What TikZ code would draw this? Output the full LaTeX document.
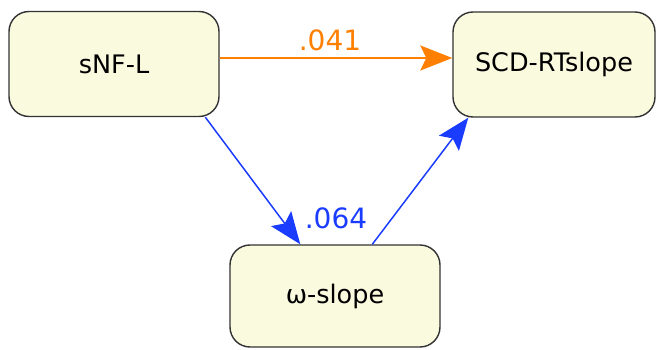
\documentclass[tikz,border=0pt]{standalone}
\usepackage{fontspec}
\setmainfont{DejaVu Sans}
\usetikzlibrary{arrows.meta,calc}
\definecolor{boxfill}{HTML}{FAFADF}
\definecolor{boxline}{HTML}{333333}
\definecolor{orangeedge}{HTML}{FF7F00}
\definecolor{blueedge}{HTML}{1A3CFF}
\tikzset{
  var/.style={draw=boxline, line width=1.4pt, fill=boxfill, rounded corners=20pt,
    minimum width=210pt, minimum height=105pt, inner sep=0pt,
    font=\fontsize{25.5}{30}\selectfont},
  edgelbl/.style={font=\fontsize{28}{32}\selectfont, inner sep=0pt},
  tip/.style={-{Stealth[length=32pt,width=25pt,inset=6pt]}},
}
\begin{document}
\begin{tikzpicture}[x=1pt,y=-1pt]
\useasboundingbox (0,0) rectangle (657,350);
\node[var] (snfl) at (114,64) {sNF-L};
\node[var, minimum width=202pt] (scd) at (554,64.5) {SCD-RTslope};
\node[var, minimum height=102pt] (omega) at (335,296) {ω-slope};
\draw[tip, orangeedge, line width=2pt] (snfl.east |- 0,58) -- (scd.west |- 0,58);
\node[edgelbl, text=orangeedge] (l1) at (330,40) {.041};
\draw[tip, blueedge, line width=1.5pt] ($(snfl.south west)+(197,0)$) -- ($(omega.north west)+(71,0)$);
\draw[tip, blueedge, line width=1.5pt] ($(omega.north west)+(143,0)$) -- ($(scd.south west)+(16,0)$);
\node[edgelbl, text=blueedge] (l2) at (336,218) {.064};
\end{tikzpicture}
\end{document}
